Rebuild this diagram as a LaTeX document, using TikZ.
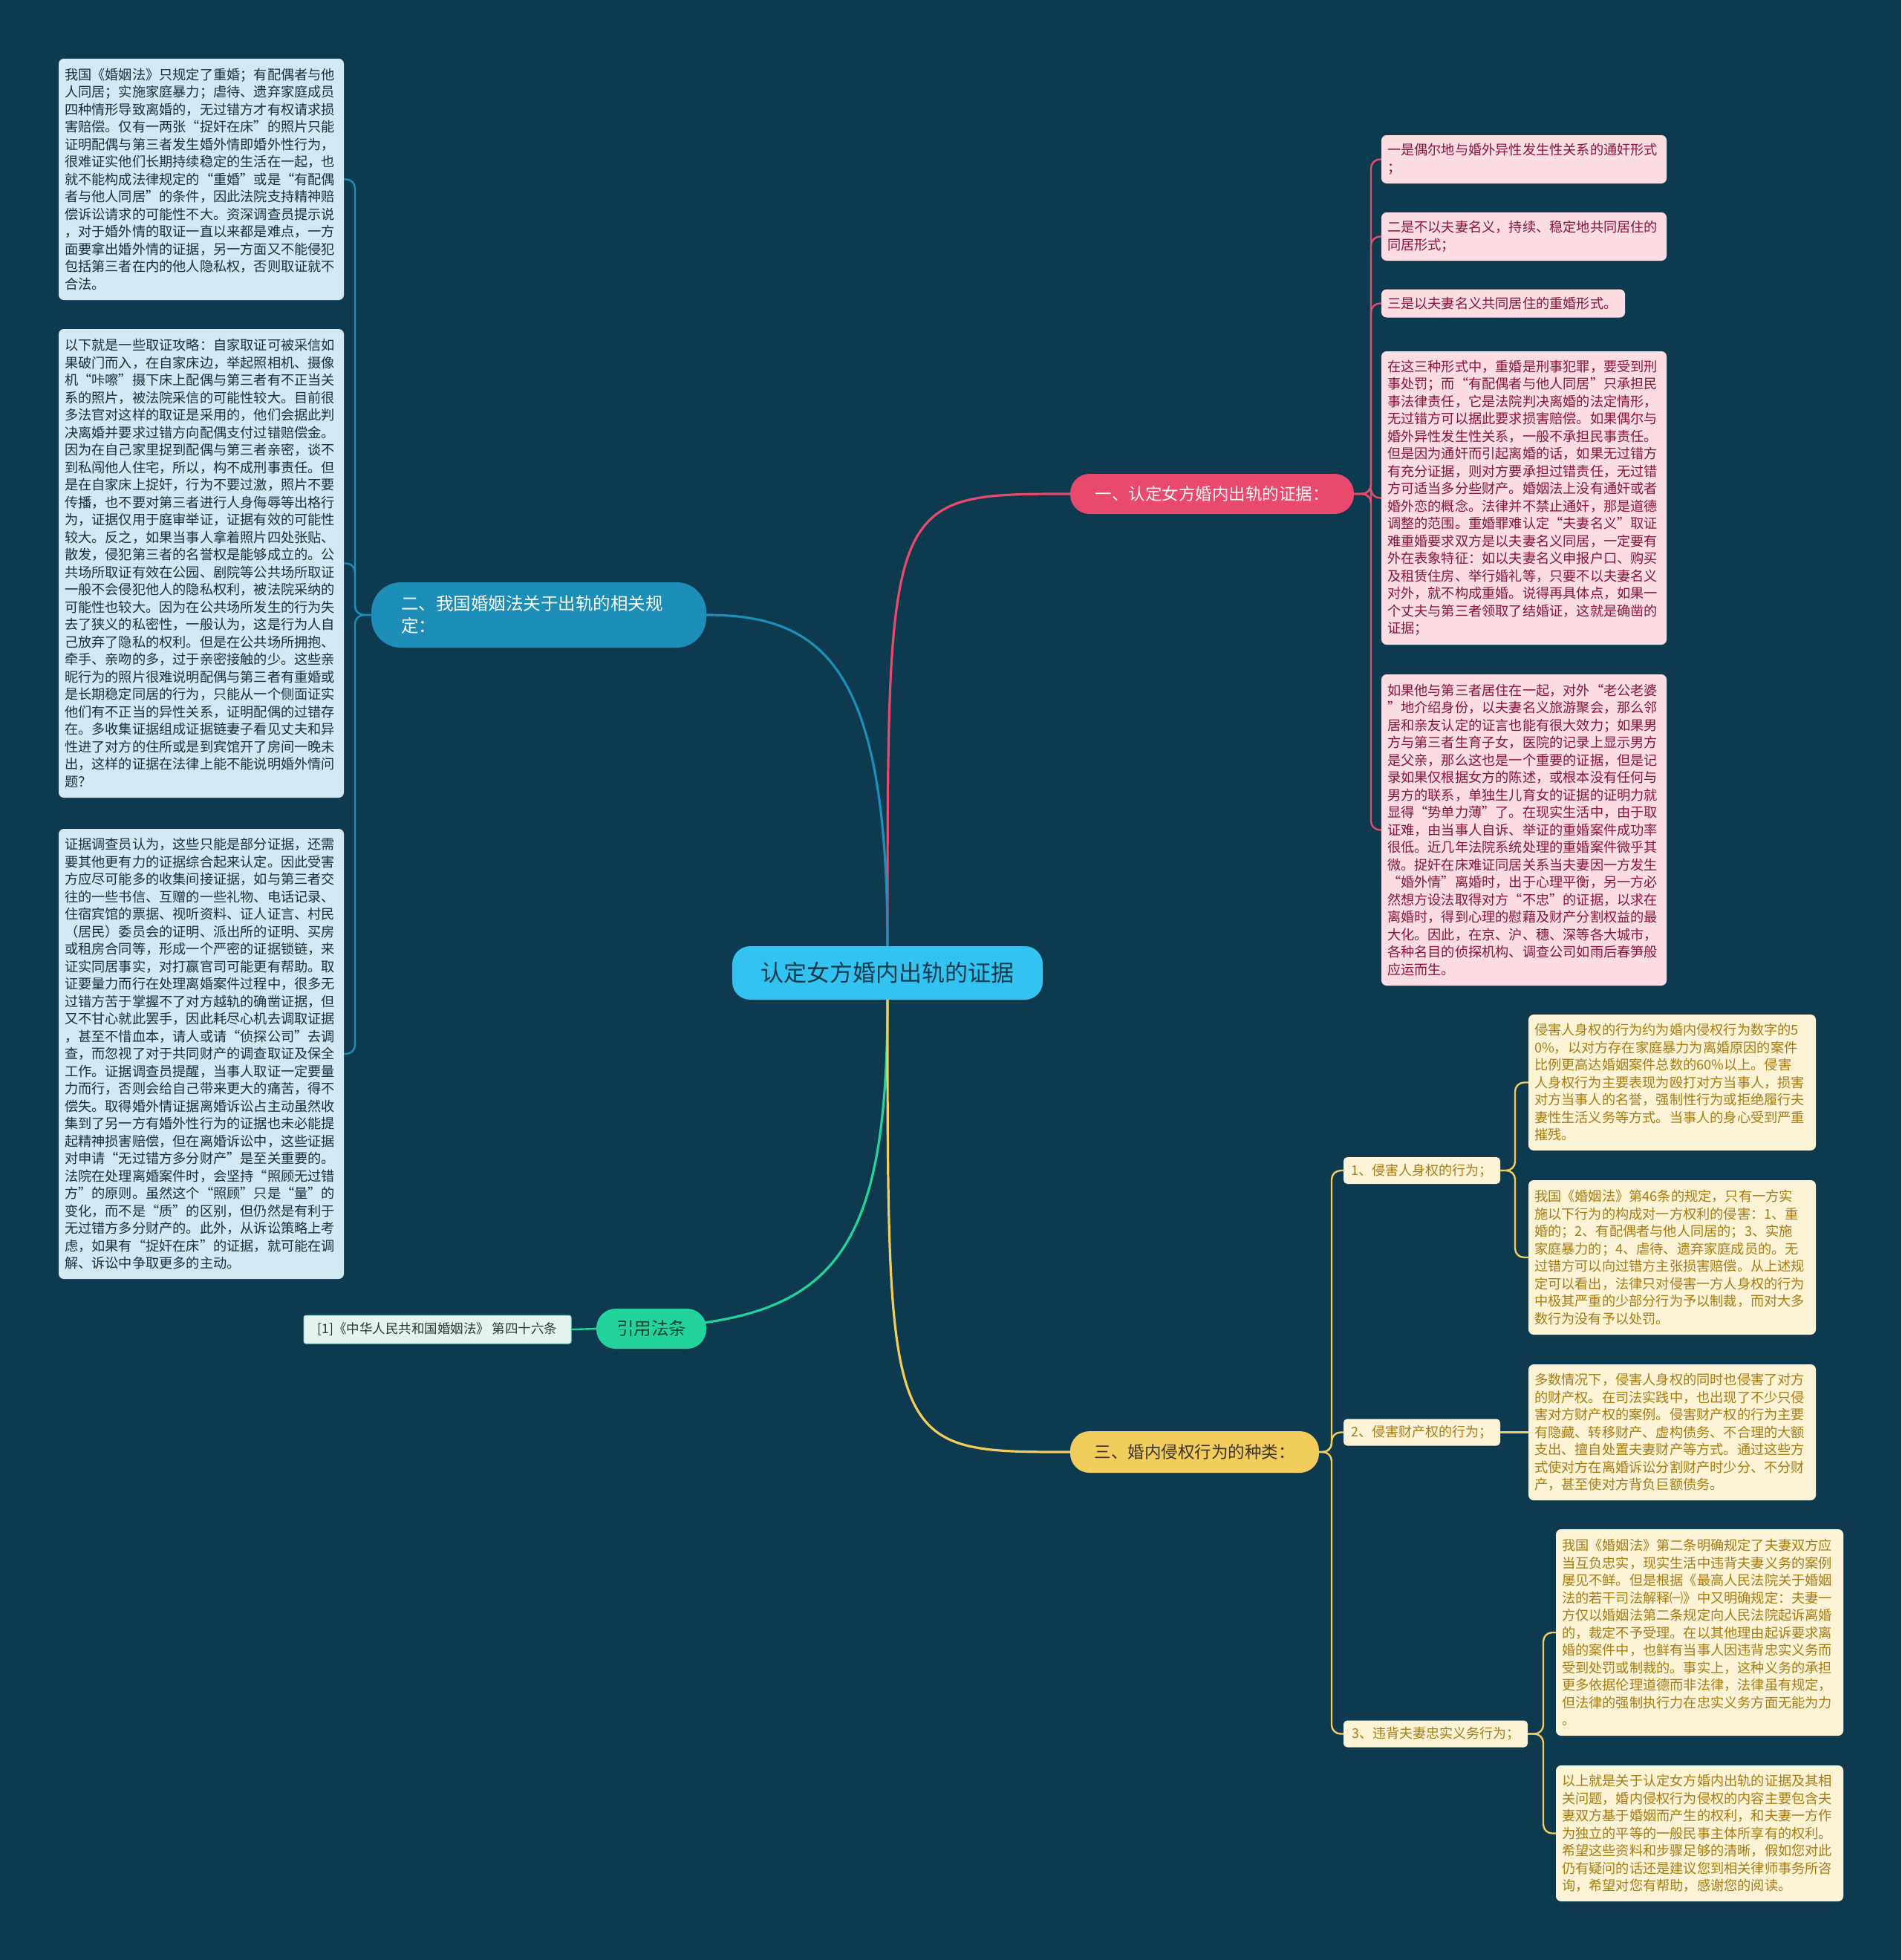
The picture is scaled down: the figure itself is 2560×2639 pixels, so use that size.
\documentclass[tikz,border=0pt]{standalone}
\usepackage{fontspec}
\setmainfont{Noto Sans CJK SC}
\newfontfamily\cjk{Noto Sans CJK SC}
\definecolor{bgc}{HTML}{0D3A4E}
\definecolor{lfill}{HTML}{D3E9F1}
\definecolor{ltext}{HTML}{1C2F3A}
\definecolor{pfill}{HTML}{FCDDE4}
\definecolor{ptext}{HTML}{8A1538}
\definecolor{yfill}{HTML}{FDF3D6}
\definecolor{ytext}{HTML}{A87C12}
\definecolor{pline}{HTML}{E8496C}
\definecolor{bline}{HTML}{1C8EB8}
\definecolor{gline}{HTML}{22D39C}
\definecolor{yline}{HTML}{F3CD5B}
\definecolor{cfill}{HTML}{33C3F0}
\definecolor{ctext}{HTML}{0E3A4E}
\definecolor{leaffill}{HTML}{E5F5ED}
\tikzset{
  blk/.style={rectangle, rounded corners=7pt, inner xsep=8pt, inner ysep=3pt, align=left,
    font=\cjk\fontsize{18.2}{23.5}\selectfont, anchor=center},
  lblk/.style={blk, fill=lfill, text=ltext},
  pblk/.style={blk, fill=pfill, text=ptext},
  yblk/.style={blk, fill=yfill, text=ytext},
  ylab/.style={rectangle, rounded corners=5pt, fill=yfill, text=ytext, inner xsep=8pt, inner ysep=2pt,
    font=\cjk\fontsize{18}{22}\selectfont, minimum height=36pt, anchor=center},
  pill/.style={rectangle, rounded corners=26pt, inner sep=0pt, anchor=center},
  mainline/.style={line width=3.2pt},
  subline/.style={line width=2.4pt, rounded corners=12pt},
}
\begin{document}
\begin{tikzpicture}[x=1pt,y=-1pt]
\useasboundingbox (0,0) rectangle (2560,2639);
\fill[bgc] (0,0) rectangle (2560,2639);

% central topic
\node[rectangle, rounded corners=24pt, fill=cfill, text=ctext, minimum width=418pt, minimum height=72pt,
  font=\cjk\fontsize{31}{36}\selectfont, inner sep=0pt] (c) at (1195,1310) {认定女方婚内出轨的证据};

% main branches
\node[pill, fill=pline, text=white!88!pink, minimum width=382pt, minimum height=54pt,
  font=\cjk\fontsize{22.5}{27}\selectfont] (b1) at (1632,665) {一、认定女方婚内出轨的证据：};
\node[pill, rounded corners=40pt, fill=bline, text=white, minimum height=88pt, text width=371pt, inner xsep=40pt,
  align=left, font=\cjk\fontsize{23.5}{30}\selectfont] (b2) at (725.5,828) {二、我国婚姻法关于出轨的相关规\\定：};
\node[pill, fill=yline, text={rgb,255:red,59;green,52;blue,37}, minimum width=335pt, minimum height=56pt,
  font=\cjk\fontsize{22.5}{27}\selectfont] (b3) at (1608.5,1955) {三、婚内侵权行为的种类：};
\node[pill, fill=gline, text={rgb,255:red,13;green,59;blue,58}, minimum width=148pt, minimum height=54pt,
  font=\cjk\fontsize{23.5}{27}\selectfont] (b4) at (877,1789) {引用法条};

% main connectors
\draw[mainline, pline] (c.north) .. controls (1195,665) .. (b1.west);
\draw[mainline, bline] (c.north) .. controls (1195,900) and (1110,828) .. (b2.east);
\draw[mainline, gline] (c.south) .. controls (1195,1720) and (1110,1789) .. (b4.west);
\draw[mainline, yline] (c.south) .. controls (1195,1955) .. (b3.west);

% leaf of branch 4
\node[rectangle, rounded corners=3pt, fill=leaffill, draw=gline!60!white, line width=1pt, text={rgb,255:red,40;green,56;blue,56},
  minimum width=360pt, minimum height=38pt, inner sep=0pt, font=\cjk\fontsize{17.5}{21}\selectfont] (lf) at (589,1790)
  {[1]《中华人民共和国婚姻法》 第四十六条};
\draw[line width=2.4pt, gline] (b4.west) -- (lf.east);

% left blocks (branch 2)
\node[lblk, text width=368pt, minimum height=325pt] (l1) at (271,241.5) {我国《婚姻法》只规定了重婚；有配偶者与他\\人同居；实施家庭暴力；虐待、遗弃家庭成员\\四种情形导致离婚的，无过错方才有权请求损\\害赔偿。仅有一两张“捉奸在床”的照片只能\\证明配偶与第三者发生婚外情即婚外性行为，\\很难证实他们长期持续稳定的生活在一起，也\\就不能构成法律规定的“重婚”或是“有配偶\\者与他人同居”的条件，因此法院支持精神赔\\偿诉讼请求的可能性不大。资深调查员提示说\\，对于婚外情的取证一直以来都是难点，一方\\面要拿出婚外情的证据，另一方面又不能侵犯\\包括第三者在内的他人隐私权，否则取证就不\\合法。};
\node[lblk, text width=368pt, minimum height=631pt] (l2) at (271,758.5) {以下就是一些取证攻略：自家取证可被采信如\\果破门而入，在自家床边，举起照相机、摄像\\机“咔嚓”摄下床上配偶与第三者有不正当关\\系的照片，被法院采信的可能性较大。目前很\\多法官对这样的取证是采用的，他们会据此判\\决离婚并要求过错方向配偶支付过错赔偿金。\\因为在自己家里捉到配偶与第三者亲密，谈不\\到私闯他人住宅，所以，构不成刑事责任。但\\是在自家床上捉奸，行为不要过激，照片不要\\传播，也不要对第三者进行人身侮辱等出格行\\为，证据仅用于庭审举证，证据有效的可能性\\较大。反之，如果当事人拿着照片四处张贴、\\散发，侵犯第三者的名誉权是能够成立的。公\\共场所取证有效在公园、剧院等公共场所取证\\一般不会侵犯他人的隐私权利，被法院采纳的\\可能性也较大。因为在公共场所发生的行为失\\去了狭义的私密性，一般认为，这是行为人自\\己放弃了隐私的权利。但是在公共场所拥抱、\\牵手、亲吻的多，过于亲密接触的少。这些亲\\昵行为的照片很难说明配偶与第三者有重婚或\\是长期稳定同居的行为，只能从一个侧面证实\\他们有不正当的异性关系，证明配偶的过错存\\在。多收集证据组成证据链妻子看见丈夫和异\\性进了对方的住所或是到宾馆开了房间一晚未\\出，这样的证据在法律上能不能说明婚外情问\\题？};
\node[lblk, text width=368pt, minimum height=606pt] (l3) at (271,1419) {证据调查员认为，这些只能是部分证据，还需\\要其他更有力的证据综合起来认定。因此受害\\方应尽可能多的收集间接证据，如与第三者交\\往的一些书信、互赠的一些礼物、电话记录、\\住宿宾馆的票据、视听资料、证人证言、村民\\（居民）委员会的证明、派出所的证明、买房\\或租房合同等，形成一个严密的证据锁链，来\\证实同居事实，对打赢官司可能更有帮助。取\\证要量力而行在处理离婚案件过程中，很多无\\过错方苦于掌握不了对方越轨的确凿证据，但\\又不甘心就此罢手，因此耗尽心机去调取证据\\，甚至不惜血本，请人或请“侦探公司”去调\\查，而忽视了对于共同财产的调查取证及保全\\工作。证据调查员提醒，当事人取证一定要量\\力而行，否则会给自己带来更大的痛苦，得不\\偿失。取得婚外情证据离婚诉讼占主动虽然收\\集到了另一方有婚外性行为的证据也未必能提\\起精神损害赔偿，但在离婚诉讼中，这些证据\\对申请“无过错方多分财产”是至关重要的。\\法院在处理离婚案件时，会坚持“照顾无过错\\方”的原则。虽然这个“照顾”只是“量”的\\变化，而不是“质”的区别，但仍然是有利于\\无过错方多分财产的。此外，从诉讼策略上考\\虑，如果有“捉奸在床”的证据，就可能在调\\解、诉讼中争取更多的主动。};
\foreach \n in {l1,l2,l3} \draw[subline, bline] (b2.west) -- (478,828) |- (\n.east);

% right pink blocks (branch 1)
\node[pblk, text width=368pt, minimum height=65pt] (p1) at (2052,214.5) {一是偶尔地与婚外异性发生性关系的通奸形式\\；};
\node[pblk, text width=368pt, minimum height=65pt] (p2) at (2052,318.5) {二是不以夫妻名义，持续、稳定地共同居住的\\同居形式；};
\node[pblk, text width=312pt, minimum height=38pt] (p3) at (2024,408.5) {三是以夫妻名义共同居住的重婚形式。};
\node[pblk, text width=368pt, minimum height=395pt] (p4) at (2052,670.5) {在这三种形式中，重婚是刑事犯罪，要受到刑\\事处罚；而“有配偶者与他人同居”只承担民\\事法律责任，它是法院判决离婚的法定情形，\\无过错方可以据此要求损害赔偿。如果偶尔与\\婚外异性发生性关系，一般不承担民事责任。\\但是因为通奸而引起离婚的话，如果无过错方\\有充分证据，则对方要承担过错责任，无过错\\方可适当多分些财产。婚姻法上没有通奸或者\\婚外恋的概念。法律并不禁止通奸，那是道德\\调整的范围。重婚罪难认定“夫妻名义”取证\\难重婚要求双方是以夫妻名义同居，一定要有\\外在表象特征：如以夫妻名义申报户口、购买\\及租赁住房、举行婚礼等，只要不以夫妻名义\\对外，就不构成重婚。说得再具体点，如果一\\个丈夫与第三者领取了结婚证，这就是确凿的\\证据；};
\node[pblk, text width=368pt, minimum height=419pt] (p5) at (2052,1117.5) {如果他与第三者居住在一起，对外“老公老婆\\”地介绍身份，以夫妻名义旅游聚会，那么邻\\居和亲友认定的证言也能有很大效力；如果男\\方与第三者生育子女，医院的记录上显示男方\\是父亲，那么这也是一个重要的证据，但是记\\录如果仅根据女方的陈述，或根本没有任何与\\男方的联系，单独生儿育女的证据的证明力就\\显得“势单力薄”了。在现实生活中，由于取\\证难，由当事人自诉、举证的重婚案件成功率\\很低。近几年法院系统处理的重婚案件微乎其\\微。捉奸在床难证同居关系当夫妻因一方发生\\“婚外情”离婚时，出于心理平衡，另一方必\\然想方设法取得对方“不忠”的证据，以求在\\离婚时，得到心理的慰藉及财产分割权益的最\\大化。因此，在京、沪、穗、深等各大城市，\\各种名目的侦探机构、调查公司如雨后春笋般\\应运而生。};
\foreach \n in {p1,p2,p3,p4,p5} \draw[subline, pline] (b1.east) -- (1846,665) |- (\n.west);

% branch 3 sub-topics
\node[ylab, minimum width=211pt] (ya) at (1914.5,1576) {1、侵害人身权的行为；};
\node[ylab, minimum width=211pt] (yb) at (1914.5,1928.5) {2、侵害财产权的行为；};
\node[ylab, minimum width=248pt] (yc) at (1933,2334.5) {3、违背夫妻忠实义务行为；};
\foreach \n in {ya,yb,yc} \draw[subline, yline] (b3.east) -- (1793,1955) |- (\n.west);

\node[yblk, text width=371pt, minimum height=183pt] (y1) at (2251.5,1457.5) {侵害人身权的行为约为婚内侵权行为数字的5\\0\%，以对方存在家庭暴力为离婚原因的案件\\比例更高达婚姻案件总数的60\%以上。侵害\\人身权行为主要表现为殴打对方当事人，损害\\对方当事人的名誉，强制性行为或拒绝履行夫\\妻性生活义务等方式。当事人的身心受到严重\\摧残。};
\node[yblk, text width=371pt, minimum height=208pt] (y2) at (2251.5,1693) {我国《婚姻法》第46条的规定，只有一方实\\施以下行为的构成对一方权利的侵害：1、重\\婚的；2、有配偶者与他人同居的；3、实施\\家庭暴力的；4、虐待、遗弃家庭成员的。无\\过错方可以向过错方主张损害赔偿。从上述规\\定可以看出，法律只对侵害一方人身权的行为\\中极其严重的少部分行为予以制裁，而对大多\\数行为没有予以处罚。};
\node[yblk, text width=371pt, minimum height=183pt] (y3) at (2251.5,1928.5) {多数情况下，侵害人身权的同时也侵害了对方\\的财产权。在司法实践中，也出现了不少只侵\\害对方财产权的案例。侵害财产权的行为主要\\有隐藏、转移财产、虚构债务、不合理的大额\\支出、擅自处置夫妻财产等方式。通过这些方\\式使对方在离婚诉讼分割财产时少分、不分财\\产，甚至使对方背负巨额债务。};
\node[yblk, text width=371pt, minimum height=278pt] (y4) at (2288.5,2198) {我国《婚姻法》第二条明确规定了夫妻双方应\\当互负忠实，现实生活中违背夫妻义务的案例\\屡见不鲜。但是根据《最高人民法院关于婚姻\\法的若干司法解释㈠》中又明确规定：夫妻一\\方仅以婚姻法第二条规定向人民法院起诉离婚\\的，裁定不予受理。在以其他理由起诉要求离\\婚的案件中，也鲜有当事人因违背忠实义务而\\受到处罚或制裁的。事实上，这种义务的承担\\更多依据伦理道德而非法律，法律虽有规定，\\但法律的强制执行力在忠实义务方面无能为力\\。};
\node[yblk, text width=371pt, minimum height=183pt] (y5) at (2288.5,2468.5) {以上就是关于认定女方婚内出轨的证据及其相\\关问题，婚内侵权行为侵权的内容主要包含夫\\妻双方基于婚姻而产生的权利，和夫妻一方作\\为独立的平等的一般民事主体所享有的权利。\\希望这些资料和步骤足够的清晰，假如您对此\\仍有疑问的话还是建议您到相关律师事务所咨\\询，希望对您有帮助，感谢您的阅读。};

\foreach \n in {y1,y2} \draw[subline, yline] (ya.east) -- (2040,1576) |- (\n.west);
\draw[line width=2.4pt, yline] (yb.east) -- (y3.west);
\foreach \n in {y4,y5} \draw[subline, yline] (yc.east) -- (2078,2334.5) |- (\n.west);
\end{tikzpicture}
\end{document}
